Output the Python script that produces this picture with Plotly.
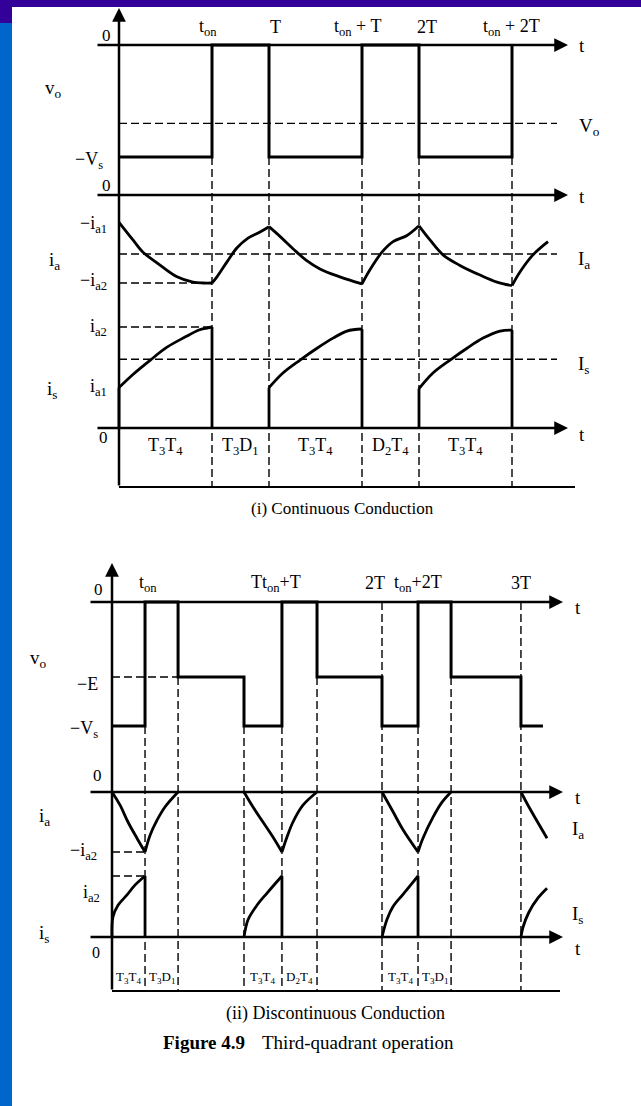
import plotly.graph_objects as go

W, H = 641, 1106
INK = "black"
SERIF = "Liberation Serif, Times New Roman, serif"
DASH = "8px,4px"

# ---------------- (i) continuous conduction ----------------
# time in switching periods T, v_o in units of Vs, currents normalised to i_a2
T1_EDGES = [0.0, 0.62, 1.0, 1.62, 2.0, 2.62]          # T3 on / off instants
VO1_LEVELS = [-1.0, 0.0, -1.0, 0.0, -1.0, 0.0]          # -Vs while T3T4 conduct, 0 otherwise
VO1_MEAN = -0.70                                         # V_o

IA1_T = [
    [0.0, 0.093, 0.16, 0.253, 0.387, 0.493, 0.56, 0.62],
    [0.62, 0.653, 0.72, 0.787, 0.86, 0.94, 1.0],
    [1.0, 1.073, 1.16, 1.247, 1.34, 1.473, 1.62],
    [1.62, 1.673, 1.753, 1.827, 1.92, 2.0],
    [2.0, 2.073, 2.16, 2.273, 2.407, 2.52, 2.62],
    [2.62, 2.673, 2.76, 2.86],
]
IA1_V = [
    [-0.31, -0.51, -0.65, -0.77, -0.93, -0.99, -1.0, -1.0],
    [-1.0, -0.93, -0.76, -0.60, -0.49, -0.42, -0.36],
    [-0.36, -0.47, -0.61, -0.74, -0.84, -0.93, -1.01],
    [-1.01, -0.85, -0.65, -0.53, -0.46, -0.35],
    [-0.35, -0.51, -0.68, -0.80, -0.91, -0.99, -1.03],
    [-1.03, -0.875, -0.68, -0.53],
]
IA1_A1 = -0.31      # -i_a1
IA1_A2 = -1.0       # -i_a2
IA1_MEAN = -0.67    # I_a

IS1_T = [
    [0.0, 0.093, 0.207, 0.32, 0.44, 0.533, 0.587, 0.62],
    [1.0, 1.093, 1.207, 1.32, 1.427, 1.52, 1.62],
    [2.0, 2.093, 2.207, 2.32, 2.427, 2.54, 2.62],
]
IS1_V = [
    [0.40, 0.53, 0.67, 0.80, 0.90, 0.97, 0.99, 1.0],
    [0.40, 0.545, 0.673, 0.79, 0.89, 0.96, 0.98],
    [0.39, 0.545, 0.673, 0.79, 0.89, 0.96, 0.97],
]
IS1_A1 = 0.40
IS1_A2 = 1.0
IS1_MEAN = 0.68     # I_s

MODES1 = ["T<sub>3</sub>T<sub>4</sub>", "T<sub>3</sub>D<sub>1</sub>", "T<sub>3</sub>T<sub>4</sub>",
          "D<sub>2</sub>T<sub>4</sub>", "T<sub>3</sub>T<sub>4</sub>"]
TIMES1 = ["t<sub>on</sub>", "T", "t<sub>on</sub> + T", "2T", "t<sub>on</sub> + 2T"]
TIMES1_SHIFT = [-4, 6, -5, 8, -1]

# ---------------- (ii) discontinuous conduction ----------------
VO2_T = [0.0, 0.242, 0.484, 0.967, 1.245, 1.502, 1.978, 2.242, 2.484, 2.996, 3.157]
VO2_LEVELS = [-1.0, 0.0, -0.605, -1.0, 0.0, -0.605, -1.0, 0.0, -0.605, -1.0, -1.0]
VO2_E = -0.605      # -E

IA2_T = [
    [0.0, 0.059, 0.117, 0.183, 0.242],
    [0.242, 0.279, 0.33, 0.388, 0.484],
    [0.967, 1.033, 1.106, 1.179, 1.245],
    [1.245, 1.282, 1.326, 1.399, 1.502],
    [1.978, 2.059, 2.132, 2.242],
    [2.242, 2.278, 2.352, 2.418, 2.484],
    [2.996, 3.062, 3.187],
]
IA2_V = [
    [0.0, -0.22, -0.5, -0.77, -1.0],
    [-1.0, -0.72, -0.47, -0.25, 0.0],
    [0.0, -0.25, -0.5, -0.75, -1.0],
    [-1.0, -0.75, -0.5, -0.22, 0.0],
    [0.0, -0.33, -0.63, -1.0],
    [-1.0, -0.77, -0.42, -0.17, 0.0],
    [0.0, -0.28, -0.77],
]
IA2_A2 = -1.0

IS2_T = [
    [0.0, 0.007, 0.044, 0.11, 0.168, 0.242],
    [0.967, 0.996, 1.062, 1.136, 1.245],
    [1.978, 2.015, 2.059, 2.132, 2.242],
    [2.996, 3.011, 3.055, 3.121, 3.187],
]
IS2_V = [
    [0.0, 0.33, 0.52, 0.69, 0.85, 1.0],
    [0.0, 0.28, 0.52, 0.72, 1.0],
    [0.0, 0.29, 0.50, 0.70, 1.0],
    [0.0, 0.16, 0.41, 0.64, 0.80],
]
IS2_A2 = 1.0

MODES2 = ["T<sub>3</sub>T<sub>4</sub>", "T<sub>3</sub>D<sub>1</sub>", "T<sub>3</sub>T<sub>4</sub>",
          "D<sub>2</sub>T<sub>4</sub>", "T<sub>3</sub>T<sub>4</sub>", "T<sub>3</sub>D<sub>1</sub>"]
MODES2_SPAN = [(0, 1), (1, 2), (3, 4), (4, 5), (6, 7), (7, 8)]   # index pairs into VO2_T
GUIDE2_TOP = [-1.0, -0.605, -1.0, -1.0, -0.605, 0.0, -1.0, -0.605, 0.0]  # upper end of each guide
TIMES2 = ["t<sub>on</sub>", "Tt<sub>on</sub>+T", "2T", "t<sub>on</sub>+2T", "3T"]
TIMES2_AT = [1, 4, 6, 7, 9]
TIMES2_SHIFT = [3, -6, -7, 0, 0]

# ---------------- page geometry ----------------
XGEOM = {"x": (119.0, 150.0), "x2": (112.0, 136.5)}      # pixel of t=0, pixels per period
YGEOM = {"y": (45.0, 112.0), "y2": (195.0, 88.0), "y3": (428.0, 101.0),
         "y4": (602.0, 124.0), "y5": (792.0, 60.0), "y6": (937.0, 61.0)}  # pixel of zero, pixels per unit


def xr(ax):
    t0, per = XGEOM[ax]
    return [-t0 / per, (W - t0) / per]


def yr(ax):
    base, k = YGEOM[ax]
    return [(base - H) / k, base / k]


def tx(ax, px):
    t0, per = XGEOM[ax]
    return (px - t0) / per


def vy(ax, px):
    base, k = YGEOM[ax]
    return (base - px) / k


fig = go.Figure()
anns = []


def line(xs, ys, xa, ya, width=3.0, dash=None, shape="linear"):
    ln = dict(color=INK, width=width, shape=shape)
    if dash:
        ln["dash"] = dash
    fig.add_trace(go.Scatter(x=xs, y=ys, xaxis=xa, yaxis=ya, mode="lines", line=ln,
                             hoverinfo="skip", showlegend=False))


def arrow(xa, ya, x0, y0, x1, y1):
    anns.append(dict(xref=xa, yref=ya, axref=xa, ayref=ya, x=x1, y=y1, ax=x0, ay=y0,
                     text="", showarrow=True, arrowhead=2, arrowsize=1.1,
                     arrowwidth=2.5, arrowcolor=INK))


def label(s, x, y, xref="paper", yref="paper", size=17, xanchor="center",
          yanchor="middle", yshift=0, xshift=0):
    if xref == "paper":
        x = x / W
    if yref == "paper":
        y = 1 - y / H
    anns.append(dict(text=s, x=x, y=y, xref=xref, yref=yref, showarrow=False,
                     xanchor=xanchor, yanchor=yanchor, xshift=xshift, yshift=yshift,
                     font=dict(family=SERIF, size=size, color=INK)))


GUIDE_W = 1.4

# ======== (i) guides ========
bottom1 = vy("y", 487)
for t in T1_EDGES[1:]:
    line([t, t], [min(VO1_LEVELS), bottom1], "x", "y", GUIDE_W, DASH)
right1 = tx("x", 557)
line([0, right1], [VO1_MEAN] * 2, "x", "y", GUIDE_W, DASH)
line([0, right1], [IA1_MEAN] * 2, "x", "y2", GUIDE_W, DASH)
line([0, tx("x", 203)], [IA1_A2] * 2, "x", "y2", GUIDE_W, DASH)
line([0, tx("x", 210)], [IS1_A2] * 2, "x", "y3", GUIDE_W, DASH)
line([0, right1], [IS1_MEAN] * 2, "x", "y3", GUIDE_W, DASH)

# ======== (i) waveforms ========
line(T1_EDGES, VO1_LEVELS, "x", "y", 3.0, shape="hv")
for ts, vs in zip(IA1_T, IA1_V):
    line(ts, vs, "x", "y2", 2.8, shape="spline")
for ts, vs in zip(IS1_T, IS1_V):
    line(ts, vs, "x", "y3", 2.8, shape="spline")
    line([ts[0], ts[0]], [0, vs[0]], "x", "y3", 2.8)
    line([ts[-1], ts[-1]], [vs[-1], 0], "x", "y3", 2.8)

# axes of (i)
arrow("x", "y", 0, vy("y", 487), 0, vy("y", 8))
for ya in ("y", "y2", "y3"):
    arrow("x", ya, tx("x", 96), 0, tx("x", 568), 0)
line([0, tx("x", 575)], [vy("y3", 487)] * 2, "x", "y3", 2.2)

# ======== (ii) guides ========
bottom2 = vy("y4", 991)
for t, top in zip(VO2_T[1:10], GUIDE2_TOP):
    line([t, t], [top, bottom2], "x2", "y4", GUIDE_W, DASH)
line([0, VO2_T[2]], [VO2_E] * 2, "x2", "y4", GUIDE_W, DASH)
line([0, VO2_T[1]], [IA2_A2] * 2, "x2", "y5", GUIDE_W, DASH)
line([0, VO2_T[1]], [IS2_A2] * 2, "x2", "y6", GUIDE_W, DASH)

# ======== (ii) waveforms ========
line(VO2_T, VO2_LEVELS, "x2", "y4", 3.0, shape="hv")
for ts, vs in zip(IA2_T, IA2_V):
    line(ts, vs, "x2", "y5", 2.8, shape="spline")
for ts, vs in zip(IS2_T, IS2_V):
    line(ts, vs, "x2", "y6", 2.8, shape="spline")
    if ts[-1] in VO2_T:
        line([ts[-1], ts[-1]], [vs[-1], 0], "x2", "y6", 2.8)

arrow("x2", "y4", 0, vy("y4", 991), 0, vy("y4", 563))
for ya in ("y4", "y5", "y6"):
    arrow("x2", ya, tx("x2", 89), 0, tx("x2", 563), 0)
line([0, tx("x2", 560)], [vy("y6", 991)] * 2, "x2", "y6", 2.2)

# ======== (i) text ========
for s, t, dx in zip(TIMES1, T1_EDGES[1:], TIMES1_SHIFT):
    label(s, t, 27, xref="x", xshift=dx, size=18)
label("0", 106, 36, size=17)
label("v<sub>o</sub>", 53, 89, size=19)
label("−V<sub>s</sub>", 105, -1.0, yref="y", xanchor="right", yshift=-3, size=18)
label("0", 106, 186, size=17)
label("−i<sub>a1</sub>", 109, IA1_A1, yref="y2", xanchor="right", yshift=-2, size=18)
label("i<sub>a</sub>", 54, 261, size=19)
label("−i<sub>a2</sub>", 109, IA1_A2, yref="y2", xanchor="right", yshift=2, size=18)
label("i<sub>a2</sub>", 109, IS1_A2, yref="y3", xanchor="right", size=18)
label("i<sub>s</sub>", 52, 390, size=19)
label("i<sub>a1</sub>", 109, IS1_A1, yref="y3", xanchor="right", size=18)
label("0", 103, 438, size=17)
for ypx in (46, 197, 434):
    label("t", 582, ypx, size=19)
label("V<sub>o</sub>", 589, VO1_MEAN, yref="y", yshift=-4, size=19)
label("I<sub>a</sub>", 584, IA1_MEAN, yref="y2", yshift=-6, size=19)
label("I<sub>s</sub>", 584, IS1_MEAN, yref="y3", yshift=-6, size=19)
for s, a, b in zip(MODES1, T1_EDGES[:-1], T1_EDGES[1:]):
    label(s, (a + b) / 2, vy("y3", 446), xref="x", yref="y3", size=18)
label("(i) Continuous Conduction", 342, 508, size=17)

# ======== (ii) text ========
for s, i, dx in zip(TIMES2, TIMES2_AT, TIMES2_SHIFT):
    label(s, VO2_T[i], 583, xref="x2", xshift=dx, size=18)
label("0", 98, 589, size=17)
label("v<sub>o</sub>", 38, 659, size=19)
label("−E", 100, VO2_E, yref="y4", xanchor="right", yshift=-7, size=18)
label("−V<sub>s</sub>", 100, -1.0, yref="y4", xanchor="right", yshift=-3, size=18)
label("0", 97, 776, size=17)
label("i<sub>a</sub>", 44, 817, size=19)
label("−i<sub>a2</sub>", 99, IA2_A2, yref="y5", xanchor="right", yshift=1, size=18)
label("i<sub>a2</sub>", 102, IS2_A2, yref="y6", xanchor="right", yshift=-17, size=18)
label("i<sub>s</sub>", 44, 934, size=19)
label("0", 96, 953, size=16)
for ypx in (607, 797, 948):
    label("t", 578, ypx, size=19)
label("I<sub>a</sub>", 578, 830, size=19)
label("I<sub>s</sub>", 578, 915, size=19)
for s, (a, b) in zip(MODES2, MODES2_SPAN):
    label(s, (VO2_T[a] + VO2_T[b]) / 2, vy("y6", 977), xref="x2", yref="y6", size=13)
label("(ii) Discontinuous Conduction", 335, 1013, size=18)
label("<b>Figure 4.9</b>", 161, 1042, size=19, xanchor="left")
label("Third-quadrant operation", 260, 1042, size=19, xanchor="left")

# ======== page frame ========
shapes = [
    dict(type="rect", xref="paper", yref="paper", x0=0, x1=1, y0=1 - 7 / H, y1=1,
         fillcolor="#330099", line_width=0, layer="above"),
    dict(type="rect", xref="paper", yref="paper", x0=0, x1=12 / W, y0=0, y1=1 - 23 / H,
         fillcolor="#0066cc", line_width=0, layer="above"),
    dict(type="rect", xref="paper", yref="paper", x0=0, x1=12 / W, y0=1 - 23 / H, y1=1,
         fillcolor="#330099", line_width=0, layer="above"),
]

axis_off = dict(visible=False, showgrid=False, zeroline=False, fixedrange=True)
fig.update_layout(
    width=W, height=H, margin=dict(l=0, r=0, t=0, b=0),
    paper_bgcolor="white", plot_bgcolor="rgba(0,0,0,0)", showlegend=False,
    xaxis=dict(domain=[0, 1], range=xr("x"), anchor="y", **axis_off),
    xaxis2=dict(domain=[0, 1], range=xr("x2"), anchor="y4", **axis_off),
    yaxis=dict(domain=[0, 1], range=yr("y"), anchor="x", **axis_off),
    yaxis2=dict(domain=[0, 1], range=yr("y2"), anchor="x", **axis_off),
    yaxis3=dict(domain=[0, 1], range=yr("y3"), anchor="x", **axis_off),
    yaxis4=dict(domain=[0, 1], range=yr("y4"), anchor="x2", **axis_off),
    yaxis5=dict(domain=[0, 1], range=yr("y5"), anchor="x2", **axis_off),
    yaxis6=dict(domain=[0, 1], range=yr("y6"), anchor="x2", **axis_off),
    annotations=anns, shapes=shapes,
)

fig.write_html("out.html")
